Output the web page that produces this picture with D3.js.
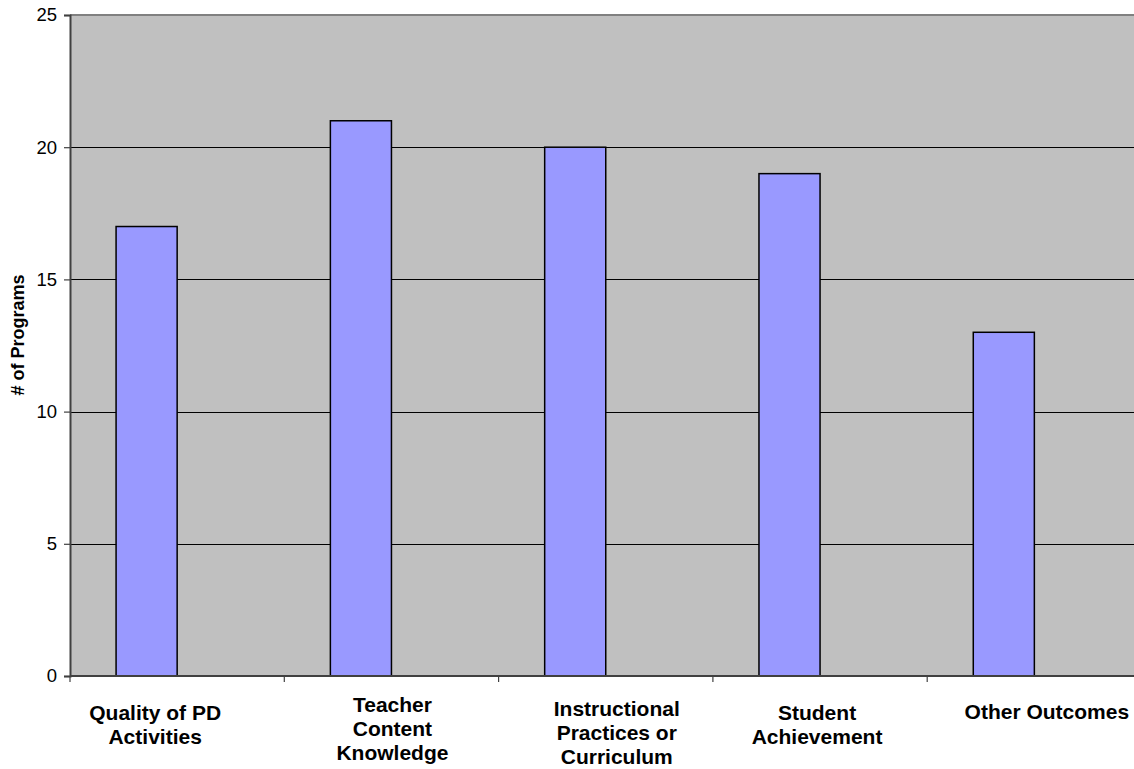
<!DOCTYPE html>
<html>
<head>
<meta charset="utf-8">
<script src="https://cdn.jsdelivr.net/npm/d3@7"></script>
<style>
  html, body { margin: 0; padding: 0; background: #ffffff; }
  svg { display: block; }
  text { font-family: "Liberation Sans", Arial, sans-serif; }
</style>
</head>
<body>
<svg id="chart" width="1134" height="769"></svg>
<script>
// ---- data ----
const categories = [
  ["Quality of PD", "Activities"],
  ["Teacher", "Content", "Knowledge"],
  ["Instructional", "Practices or", "Curriculum"],
  ["Student", "Achievement"],
  ["Other Outcomes"]
];
const categoryKeys = ["Quality of PD Activities", "Teacher Content Knowledge",
  "Instructional Practices or Curriculum", "Student Achievement", "Other Outcomes"];
const programCounts = [17, 21, 20, 19, 13];
const yTicks = [0, 5, 10, 15, 20, 25];
const yTitle = "# of Programs";

// ---- layout ----
const W = 1134, H = 769;
const plot = { left: 70, top: 15, right: 1141.5, bottom: 676 };
const svg = d3.select("#chart");

const x = d3.scaleBand().domain(categoryKeys).range([plot.left, plot.right]).padding(0);
const y = d3.scaleLinear().domain([0, 25]).range([plot.bottom, plot.top]);

// plot background
svg.append("rect")
  .attr("x", plot.left).attr("y", plot.top)
  .attr("width", plot.right - plot.left).attr("height", plot.bottom - plot.top)
  .attr("fill", "#c0c0c0");

// gridlines
svg.append("g").selectAll("line")
  .data(yTicks.filter(d => d > 0 && d < 25))
  .join("line")
  .attr("x1", plot.left).attr("x2", plot.right)
  .attr("y1", d => Math.round(y(d)) + 0.5).attr("y2", d => Math.round(y(d)) + 0.5)
  .attr("stroke", "#000").attr("stroke-width", 1);

// top border
svg.append("line")
  .attr("x1", plot.left).attr("x2", plot.right)
  .attr("y1", plot.top).attr("y2", plot.top)
  .attr("stroke", "#808080").attr("stroke-width", 2);

// bars (offset within each category like the original)
const bw = x.bandwidth();
svg.append("g").selectAll("rect")
  .data(programCounts)
  .join("rect")
  .attr("x", (d, i) => x(categoryKeys[i]) + bw * 0.215)
  .attr("width", bw * 0.285)
  .attr("y", d => y(d))
  .attr("height", d => y(0) - y(d))
  .attr("fill", "#9999ff")
  .attr("stroke", "#000")
  .attr("stroke-width", 1.5);

// y axis
const yAxis = d3.axisLeft(y).tickValues(yTicks).tickSize(6).tickPadding(7).tickFormat(d3.format("d"));
const gy = svg.append("g").attr("transform", `translate(${plot.left},0)`).call(yAxis);
gy.select(".domain").attr("stroke", "#404040").attr("stroke-width", 2);
gy.selectAll(".tick line").attr("stroke", "#404040").attr("stroke-width", 1.2);
gy.selectAll(".tick text").attr("font-size", 18.5).attr("fill", "#000")
  .attr("font-family", "'Liberation Sans', Arial, sans-serif");

// x axis line + ticks at category boundaries
svg.append("line")
  .attr("x1", plot.left).attr("x2", plot.right)
  .attr("y1", plot.bottom).attr("y2", plot.bottom)
  .attr("stroke", "#404040").attr("stroke-width", 2);
svg.append("g").selectAll("line")
  .data(categoryKeys)
  .join("line")
  .attr("x1", d => x(d)).attr("x2", d => x(d))
  .attr("y1", plot.bottom).attr("y2", plot.bottom + 6)
  .attr("stroke", "#404040").attr("stroke-width", 1.2);

// category labels
const labelNudge = [[-22, 0], [1, -8], [11, -4], [-3, 0], [12.5, -1]];
const lab = svg.append("g").selectAll("text")
  .data(categories)
  .join("text")
  .attr("text-anchor", "middle")
  .attr("font-size", 21)
  .attr("font-weight", "bold")
  .attr("fill", "#000")
  .attr("x", (d, i) => x(categoryKeys[i]) + bw / 2 + labelNudge[i][0])
  .attr("y", (d, i) => 720 + labelNudge[i][1]);
lab.each(function(lines, i) {
  const t = d3.select(this);
  const cx = x(categoryKeys[i]) + bw / 2 + labelNudge[i][0];
  lines.forEach((ln, j) => {
    t.append("tspan").attr("x", cx).attr("dy", j === 0 ? 0 : 23.8).text(ln);
  });
});

// y title
svg.append("text")
  .attr("transform", "translate(24,335) rotate(-90)")
  .attr("text-anchor", "middle")
  .attr("font-size", 18)
  .attr("font-weight", "bold")
  .attr("fill", "#000")
  .text(yTitle);
</script>
</body>
</html>
